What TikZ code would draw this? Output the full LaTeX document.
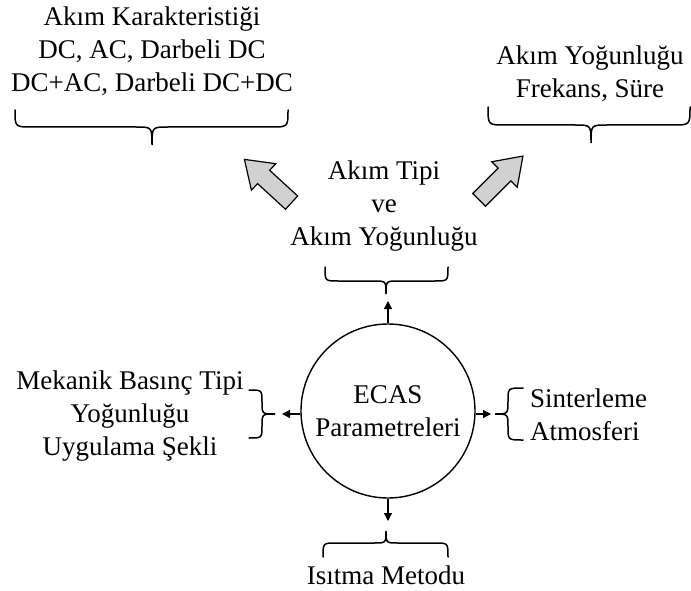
\documentclass[tikz,border=0pt]{standalone}
\usepackage{fontspec}
\setmainfont{Liberation Serif}
\usetikzlibrary{arrows.meta}
\begin{document}
\begin{tikzpicture}[x=1pt,y=-1pt,
  lbl/.style={font=\fontsize{27}{33}\selectfont, align=center, inner sep=0pt},
  brc/.style={draw, line width=1.5pt, line cap=round},
  con/.style={line width=1.2pt, -{Triangle[length=8pt,width=8pt]}},
  blk/.style={draw, line width=1.2pt, fill=black!18, line join=miter}]
\useasboundingbox (0,0) rectangle (691,591);

% central circle
\node[draw, circle, line width=1.4pt, minimum size=174pt, inner sep=0pt, lbl] (c) at (388,411) {ECAS\\Parametreleri};

% texts
\node[lbl] (tl) at (152,51) {Akım Karakteristiği\\DC, AC, Darbeli DC\\DC+AC, Darbeli DC+DC};
\node[lbl] (tr) at (590,74) {Akım Yoğunluğu\\ Frekans, Süre};
\node[lbl] (mid) at (384,206) {Akım Tipi\\ve\\Akım Yoğunluğu};
\node[lbl] (lf) at (130,416) {Mekanik Basınç Tipi\\Yoğunluğu\\Uygulama Şekli};
\node[lbl, align=left, anchor=west] (rt) at (530,415) {Sinterleme\\Atmosferi};
\node[lbl] (bt) at (386,575) {Isıtma Metodu};

% braces
\draw[brc] (15,110) .. controls (15,127) .. (32,127) -- (136,127) .. controls (152,127) .. (152,145)
  .. controls (152,127) .. (168,127) -- (271,127) .. controls (288,127) .. (288,110);
\draw[brc] (488,107) .. controls (488,125) .. (505,125) -- (575,125) .. controls (591,125) .. (591,143)
  .. controls (591,125) .. (607,125) -- (673,125) .. controls (690,125) .. (690,107);
\draw[brc] (325,267) .. controls (325,281) .. (338,281) -- (374,281) .. controls (386,281) .. (386,294)
  .. controls (386,281) .. (398,281) -- (435,281) .. controls (448,281) .. (448,267);
\draw[brc] (323,557) .. controls (323,543) .. (336,543) -- (374,543) .. controls (386,543) .. (386,531)
  .. controls (386,543) .. (398,543) -- (435,543) .. controls (448,543) .. (448,557);
\draw[brc] (249,390) .. controls (262,390) .. (262,402) .. controls (262,414) .. (275,414)
  .. controls (262,414) .. (262,426) .. controls (262,438) .. (249,438);
\draw[brc] (523,388) .. controls (508,388) .. (508,401) .. controls (508,414) .. (495,414)
  .. controls (508,414) .. (508,427) .. controls (508,440) .. (523,440);

% connectors
\coordinate (up) at (388,301);
\coordinate (dn) at (388,521);
\coordinate (lt) at (282,414);
\coordinate (rr) at (491,414);
\draw[con] (c.north) -- (up);
\draw[con] (c.south) -- (dn);
\draw[con] (c.west |- lt) -- (lt);
\draw[con] (c.east |- rr) -- (rr);

% gray block arrows
\begin{scope}[shift={(268,181)}, rotate=137.5]
  \draw[blk] (-32,-9) -- (6,-9) -- (6,-18) -- (32,0) -- (6,18) -- (6,9) -- (-32,9) -- cycle;
\end{scope}
\begin{scope}[shift={(501,178)}, rotate=45]
  \draw[blk] (-31,-9) -- (5,-9) -- (5,-18) -- (31,0) -- (5,18) -- (5,9) -- (-31,9) -- cycle;
\end{scope}
\end{tikzpicture}
\end{document}
